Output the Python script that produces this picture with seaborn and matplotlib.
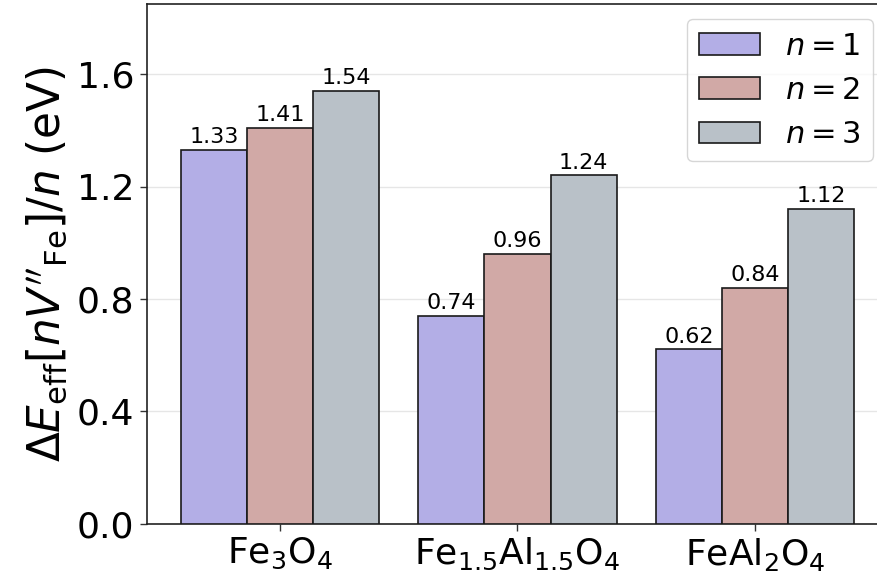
import matplotlib
matplotlib.use("Agg")
import matplotlib.pyplot as plt
import seaborn as sns
import pandas as pd

materials = [r"Fe$_3$O$_4$", r"Fe$_{1.5}$Al$_{1.5}$O$_4$", r"FeAl$_2$O$_4$"]
series = [r"$n=1$", r"$n=2$", r"$n=3$"]
n1 = [1.33, 0.74, 0.62]
n2 = [1.41, 0.96, 0.84]
n3 = [1.54, 1.24, 1.12]
colors = ["#b3aee6", "#d1a9a6", "#b9c1c8"]

rows = []
for s, vals in zip(series, [n1, n2, n3]):
    for m, v in zip(materials, vals):
        rows.append({"material": m, "n": s, "value": v})
df = pd.DataFrame(rows)

sns.set_theme(style="whitegrid")
plt.rcParams['font.family'] = ['DejaVu Sans']
plt.rcParams['mathtext.fontset'] = 'dejavusans'
plt.rcParams['text.color'] = 'black'
plt.rcParams['axes.labelcolor'] = 'black'
plt.rcParams['xtick.color'] = 'black'
plt.rcParams['ytick.color'] = 'black'

fig = plt.figure(figsize=(8.78, 5.77), dpi=100)
ax = fig.add_axes([0.1674, 0.0927, 0.844, 0.9003])

sns.barplot(data=df, x="material", y="value", hue="n", order=materials,
            hue_order=series, palette=colors, width=0.834, edgecolor="#1a1a1a",
            linewidth=1.2, saturation=1, ax=ax, zorder=3)

for cont in ax.containers:
    ax.bar_label(cont, fmt="%.2f", fontsize=16, padding=2, color="black")

ax.set_ylim(0, 1.85)
ax.set_xlim(-0.56, 2.56)
ax.set_yticks([0.0, 0.4, 0.8, 1.2, 1.6])
ax.set_yticklabels(["0.0", "0.4", "0.8", "1.2", "1.6"])
ax.set_xlabel("")
ax.set_ylabel(r"$\Delta E_{\rm eff}[nV''_{\rm Fe}]/n$ (eV)", fontsize=31.5, labelpad=6)
ax.tick_params(axis="both", labelsize=26, length=5, width=1, color="#333333",
               bottom=True, left=True, pad=4)
ax.grid(axis="x", visible=False)
ax.grid(axis="y", color="#e6e6e6", linewidth=1, zorder=0)
ax.set_axisbelow(True)
for sp in ax.spines.values():
    sp.set_color("#222222")
    sp.set_linewidth(1.2)

ax.legend(loc="upper right", fontsize=22, frameon=True, edgecolor="#cccccc",
          handlelength=2.0, handleheight=0.7, borderpad=0.4, labelspacing=0.5,
          handletextpad=0.8)

fig.savefig("out.png", dpi=100)
